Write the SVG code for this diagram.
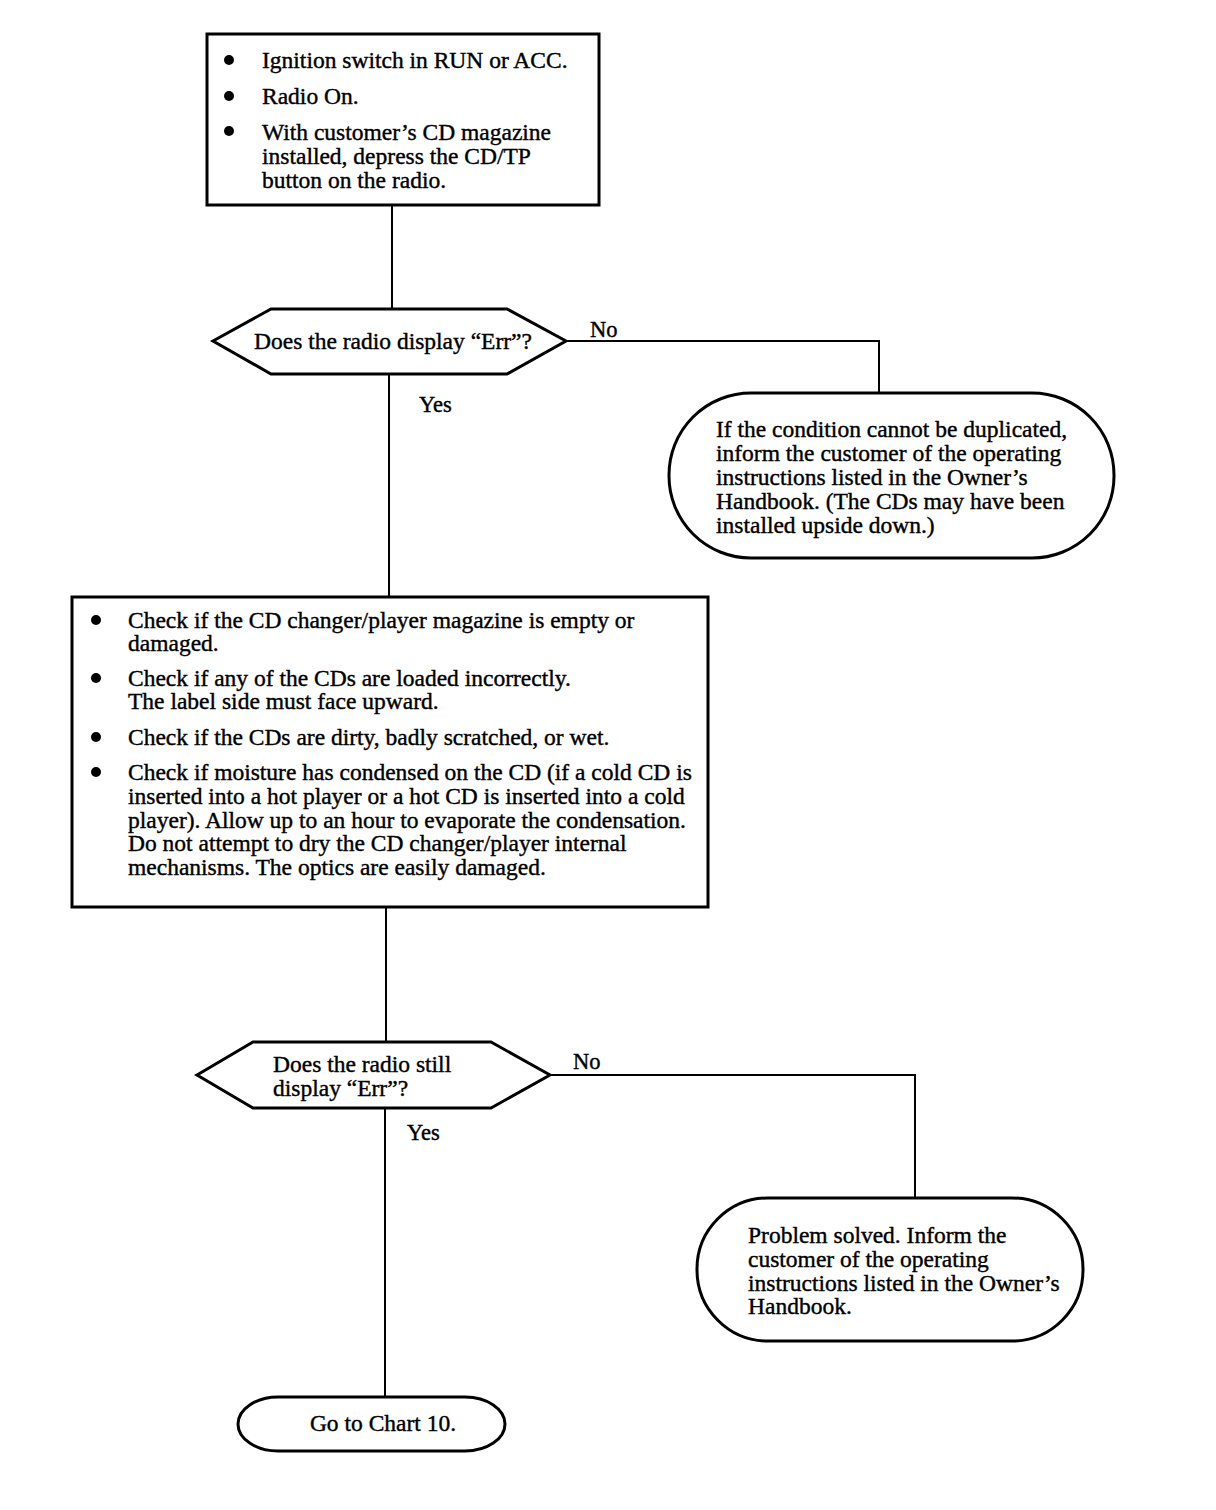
<svg xmlns="http://www.w3.org/2000/svg" width="1216" height="1510" viewBox="0 0 1216 1510">
<style>
.box{fill:#fff;stroke:#000;stroke-width:3}
.ln{fill:none;stroke:#000;stroke-width:2}
text{font-family:"Liberation Serif","Times New Roman",serif;font-size:23.5px;fill:#000;stroke:#000;stroke-width:0.4}
.lbl{font-size:22.5px}
.b{fill:#000}
</style>
<rect width="1216" height="1510" fill="#fff"/>
<g id="connectors">
<line class="ln" x1="392" y1="205" x2="392" y2="309"/>
<polyline class="ln" points="566,341 879,341 879,394"/>
<line class="ln" x1="389" y1="374" x2="389" y2="597"/>
<line class="ln" x1="386" y1="907" x2="386" y2="1042"/>
<polyline class="ln" points="550,1075 915,1075 915,1198"/>
<line class="ln" x1="385" y1="1108" x2="385" y2="1397"/>
<text class="lbl" x="590" y="337">No</text>
<text class="lbl" x="419" y="412">Yes</text>
<text class="lbl" x="573" y="1069">No</text>
<text class="lbl" x="407" y="1140">Yes</text>
</g>
<g id="start">
<rect class="box" x="207" y="34" width="392" height="171"/>
<circle class="b" cx="229" cy="60" r="5"/>
<circle class="b" cx="229" cy="96" r="5"/>
<circle class="b" cx="229" cy="131" r="5"/>
<text x="262" y="68">Ignition switch in RUN or ACC.</text>
<text x="262" y="104">Radio On.</text>
<text x="262" y="140">With customer’s CD magazine</text>
<text x="262" y="164">installed, depress the CD/TP</text>
<text x="262" y="188">button on the radio.</text>
</g>
<g id="decision1">
<polygon class="box" points="213,341 271,309 507,309 566,341 507,374 271,374"/>
<text x="393" y="349" text-anchor="middle">Does the radio display “Err”?</text>
</g>
<g id="result1">
<rect class="box" x="669" y="393" width="445" height="165" rx="82" ry="82"/>
<text x="716" y="437">If the condition cannot be duplicated,</text>
<text x="716" y="461">inform the customer of the operating</text>
<text x="716" y="485">instructions listed in the Owner’s</text>
<text x="716" y="509">Handbook. (The CDs may have been</text>
<text x="716" y="533">installed upside down.)</text>
</g>
<g id="checks">
<rect class="box" x="72" y="597" width="636" height="310"/>
<circle class="b" cx="96" cy="620" r="5"/>
<circle class="b" cx="96" cy="678" r="5"/>
<circle class="b" cx="96" cy="737" r="5"/>
<circle class="b" cx="96" cy="772" r="5"/>
<text x="128" y="628">Check if the CD changer/player magazine is empty or</text>
<text x="128" y="651">damaged.</text>
<text x="128" y="686">Check if any of the CDs are loaded incorrectly.</text>
<text x="128" y="709">The label side must face upward.</text>
<text x="128" y="745">Check if the CDs are dirty, badly scratched, or wet.</text>
<text x="128" y="780">Check if moisture has condensed on the CD (if a cold CD is</text>
<text x="128" y="804">inserted into a hot player or a hot CD is inserted into a cold</text>
<text x="128" y="828">player). Allow up to an hour to evaporate the condensation.</text>
<text x="128" y="851">Do not attempt to dry the CD changer/player internal</text>
<text x="128" y="875">mechanisms. The optics are easily damaged.</text>
</g>
<g id="decision2">
<polygon class="box" points="197,1075 253,1042 491,1042 550,1075 491,1108 253,1108"/>
<text x="273" y="1072">Does the radio still</text>
<text x="273" y="1096">display “Err”?</text>
</g>
<g id="result2">
<rect class="box" x="697" y="1198" width="386" height="143" rx="71" ry="71"/>
<text x="748" y="1243">Problem solved. Inform the</text>
<text x="748" y="1267">customer of the operating</text>
<text x="748" y="1291">instructions listed in the Owner’s</text>
<text x="748" y="1314">Handbook.</text>
</g>
<g id="chart10">
<rect class="box" x="238" y="1397" width="267" height="54" rx="40" ry="27"/>
<text x="383" y="1431" text-anchor="middle">Go to Chart 10.</text>
</g>
</svg>
